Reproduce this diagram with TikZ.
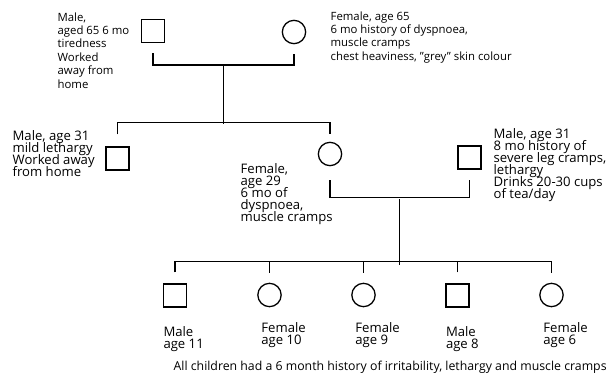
\documentclass[tikz,border=0pt]{standalone}
\usepackage{fontspec}
\setmainfont{Open Sans}
\usetikzlibrary{calc}
\usetikzlibrary{positioning}
\setlength{\lineskiplimit}{-20pt}

\begin{document}
\begin{tikzpicture}[x=0.03cm, y=-0.03cm, line width=1.1pt,
    male/.style={draw, minimum size=0.69cm, inner sep=0},
    female/.style={draw, circle, minimum size=0.7cm, inner sep=0},
    note/.style={anchor=north west, inner sep=0, align=left, font=\fontsize{11.2}{10.2}\selectfont},
    topnote/.style={note, font=\fontsize{9.7}{11.4}\selectfont}]
      \useasboundingbox (0, 0) rectangle (607, 376);

      \node[male] (gf) at (153, 31){};
      \node[female] (gm) at (294, 32){};
      \node[male] (s1) at (117.5, 158.5){};
      \node[female] (d1) at (330, 154){};
      \node[male] (h1) at (469.5, 157.5){};
      \node[male] (c1) at (175, 295.5){};
      \node[female] (c2) at (269.5, 295){};
      \node[female] (c3) at (363.5, 295){};
      \node[male] (c4) at (457.5, 295.5){};
      \node[female] (c5) at (551.5, 295){};

      \node[topnote] (gftext) at (57, 12){Male,\\aged 65 6 mo\\tiredness\\Worked\\away from\\home};
      \node[topnote] (gmtext) at (330, 11){Female, age 65\\6 mo history of dyspnoea,\\muscle cramps\\chest heaviness, ''grey'' skin colour};
      \node[note] (s1text) at (12, 130){Male, age 31\\mild lethargy\\Worked away\\from home};
      \node[note] (d1text) at (240, 163){Female,\\age 29\\6 mo of\\dyspnoea,\\muscle cramps};
      \node[note] (h1text) at (493, 128){Male, age 31\\8 mo history of\\severe leg cramps,\\lethargy\\Drinks 20-30 cups\\of tea/day};

      \node[note, below right=0.55cm and 0cm of c1.south west] (c1text){Male\\age 11};
      \node[note, below right=0.55cm and 0cm of c2.south west] (c2text){Female\\age 10};
      \node[note, below right=0.55cm and 0cm of c3.south west] (c3text){Female\\age 9};
      \node[note, below right=0.55cm and 0cm of c4.south west] (c4text){Male\\age 8};
      \node[note, below right=0.55cm and 0cm of c5.south west] (c5text){Female\\age 6};
      \node[note, font=\fontsize{10.5}{12}\selectfont] (caption) at (173, 360){All children had a 6 month history of irritability, lethargy and muscle cramps};

      \draw[-] ($(gf.south)+(0, 10)$) -- ++(0, 12) -| ($(gm.south)+(0, 10)$);
      \draw[-] ($(gf.south)!0.5!(gm.south)+(0, 22)$) -- ++(0, 58);
      \draw[-] ($(s1.north)-(0, 12)$) -- ++(0, -12) -| ($(d1.north)-(0, 8)$);

      \draw[-] ($(d1.south)+(0, 14)$) -- ++(0, 17.5) -| ($(h1.south)+(0, 10)$);
      \draw[-] ($(d1.south)!0.5!(h1.south)+(0, 31.5)$) -- ++(0, 65.5);

      \draw[-] ($(c1.north)-(0, 11)$) -- ++(0, -11) -| ($(c5.north)-(0, 10)$);
      \draw[-] ($(c2.north)-(0, 10)$) -- ++(0, -11);
      \draw[-] ($(c3.north)-(0, 10)$) -- ++(0, -11);
      \draw[-] ($(c4.north)-(0, 11)$) -- ++(0, -11);
    \end{tikzpicture}
\end{document}
